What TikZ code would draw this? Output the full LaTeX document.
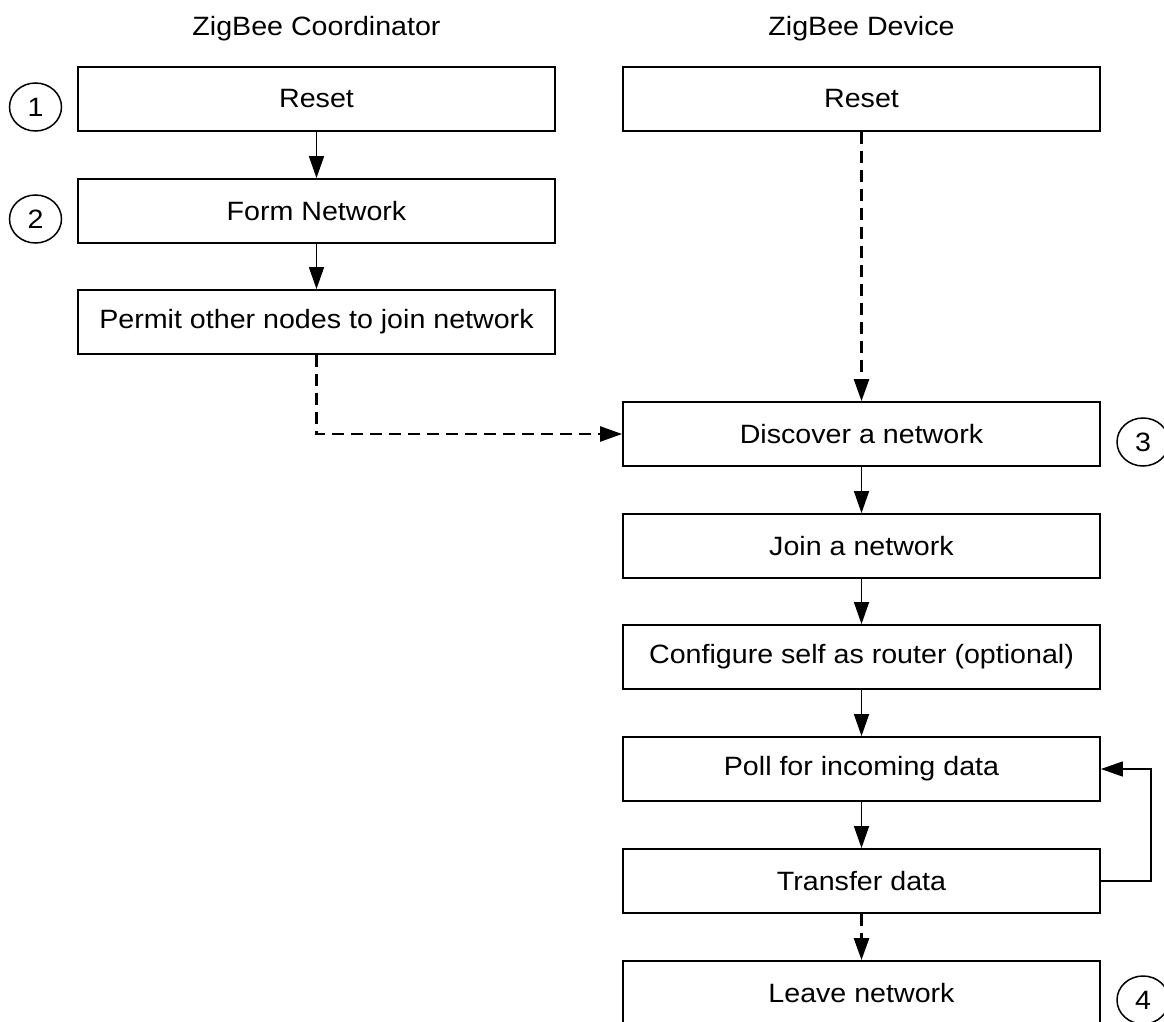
\documentclass[tikz,border=0pt]{standalone}
\usepackage{fontspec}
\setmainfont{Liberation Sans}[FakeStretch=1.08]
\usetikzlibrary{arrows.meta,shapes.geometric}
\begin{document}
\begin{tikzpicture}[x=1pt,y=-1pt,
  lbl/.style={font=\fontsize{26.5}{32}\selectfont},
  box/.style={draw, line width=1.8pt, minimum width=477pt, minimum height=64pt,
              inner sep=0pt, font=\fontsize{26.5}{32}\selectfont},
  num/.style={draw, ellipse, line width=1.5pt, minimum width=52pt, minimum height=48pt,
              inner sep=0pt, font=\fontsize{26.5}{32}\selectfont},
  flow/.style={line width=1.6pt, -{Triangle[length=22pt,width=15pt]}},
  dflow/.style={flow, line width=2.5pt, dash pattern=on 12pt off 7pt}]
\clip (0,0) rectangle (1164,1022);
\fill[white] (0,0) rectangle (1164,1022);
% titles
\node[lbl] (tc) at (316.5,29) {ZigBee Coordinator};
\node[lbl] (td) at (861.5,29) {ZigBee Device};
% coordinator column
\node[box] (cr) at (316.5,99)  {Reset};
\node[box] (cf) at (316.5,211) {Form Network};
\node[box] (cp) at (316.5,322) {Permit other nodes to join network};
% device column
\node[box] (dr) at (861.5,99)  {Reset};
\node[box] (dd) at (861.5,434) {Discover a network};
\node[box] (dj) at (861.5,546) {Join a network};
\node[box] (dc) at (861.5,657) {Configure self as router (optional)};
\node[box] (dp) at (861.5,769) {Poll for incoming data};
\node[box] (dt) at (861.5,881) {Transfer data};
\node[box] (dl) at (861.5,993) {Leave network};
% step numbers
\node[num] (n1) at (35.5,107)  {1};
\node[num] (n2) at (35.5,219)  {2};
\node[num] (n3) at (1143,442)  {3};
\node[num] (n4) at (1143,1000) {4};
% connectors
\draw[flow] (cr) -- (cf);
\draw[flow] (cf) -- (cp);
\draw[dflow] (cp.south) |- (dd.west);
\draw[dflow] (dr) -- (dd);
\draw[flow] (dd) -- (dj);
\draw[flow] (dj) -- (dc);
\draw[flow] (dc) -- (dp);
\draw[flow] (dp) -- (dt);
\coordinate (loop) at (1151,881);
\draw[flow] (dt.east) -- (loop) |- (dp.east);
\draw[dflow] (dt) -- (dl);
\end{tikzpicture}
\end{document}
